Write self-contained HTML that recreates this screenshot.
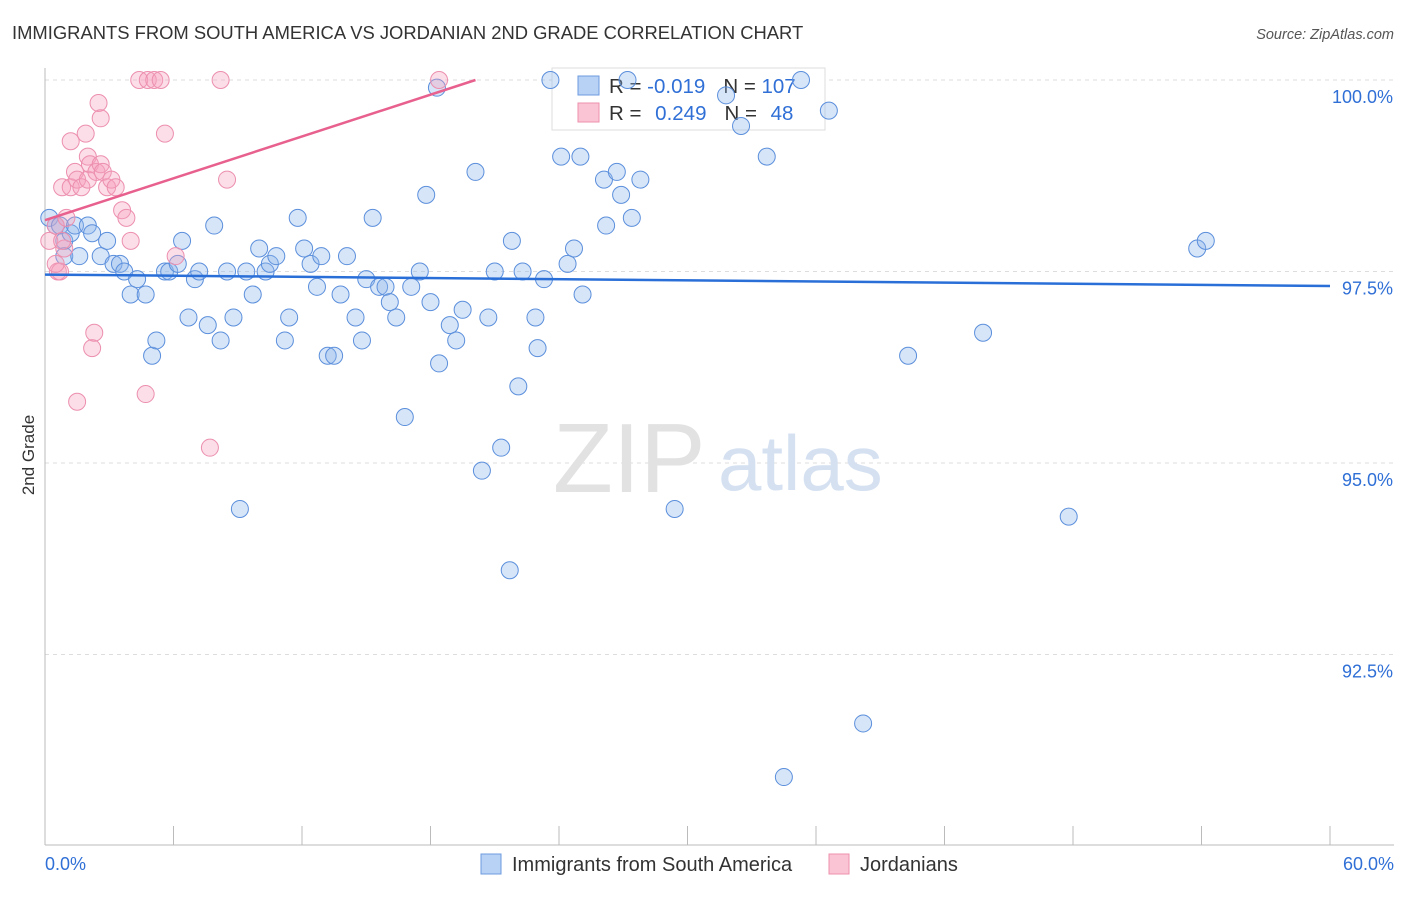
<!DOCTYPE html>
<html><head><meta charset="utf-8"><style>
body{margin:0;background:#fff;font-family:"Liberation Sans",sans-serif}
svg text{font-family:"Liberation Sans",sans-serif}
</style></head><body>
<svg width="1406" height="892" xmlns="http://www.w3.org/2000/svg">
<text x="12" y="39" font-size="18.4" fill="#333">IMMIGRANTS FROM SOUTH AMERICA VS JORDANIAN 2ND GRADE CORRELATION CHART</text>
<text x="1394" y="39" font-size="14.5" fill="#555" font-style="italic" text-anchor="end">Source: ZipAtlas.com</text>
<g id="grid"></g>
<text x="553" y="492" font-size="98" fill="#e2e2e2" font-family="Liberation Serif">ZIP</text>
<text x="718" y="490" font-size="78" fill="#d5e1f1">atlas</text>
<g>
<rect x="552" y="68" width="273" height="62" fill="#fff" stroke="#ddd"/>
<rect x="578" y="76" width="21" height="19" fill="#b8d2f5" stroke="#6d9be0"/>
<rect x="578" y="103" width="21" height="19" fill="#fac4d4" stroke="#ee90ad"/>
<text x="609" y="93" font-size="20.5" fill="#333"><tspan>R = </tspan><tspan fill="#2f6fd6">-0.019</tspan><tspan dx="18">N = </tspan><tspan fill="#2f6fd6">107</tspan></text>
<text x="609" y="120" font-size="20.5" fill="#333"><tspan>R = </tspan><tspan fill="#2f6fd6" dx="8">0.249</tspan><tspan dx="18">N = </tspan><tspan fill="#2f6fd6" dx="8">48</tspan></text>
</g>
<g id="marks"></g>
<text x="34" y="455" font-size="17" fill="#333" text-anchor="middle" transform="rotate(-90 34 455)">2nd Grade</text>
<g>
<rect x="481" y="854" width="20" height="20" fill="#b8d2f5" stroke="#6d9be0"/>
<text x="512" y="871" font-size="20" fill="#333">Immigrants from South America</text>
<rect x="829" y="854" width="20" height="20" fill="#fac4d4" stroke="#ee90ad"/>
<text x="860" y="871" font-size="20" fill="#333">Jordanians</text>
</g>
<text x="45" y="870" font-size="18" fill="#2f6fd6">0.0%</text>
<text x="1394" y="870" font-size="18" fill="#2f6fd6" text-anchor="end">60.0%</text>
</svg>
<script>
const yTicks=[100,97.5,95,92.5];
const yTickLabels=["100.0%","97.5%","95.0%","92.5%"];
const blueX=[0.2,0.5,0.7,0.9,1.2,0.9,1.4,1.6,2.0,2.2,2.6,2.9,3.2,3.5,3.7,4.0,4.3,4.7,5.0,5.2,5.6,5.8,6.2,6.4,6.7,7.0,7.2,7.6,7.9,8.2,8.5,8.8,9.1,9.4,9.7,10.0,10.3,10.5,10.8,11.2,11.4,11.8,12.1,12.4,12.7,12.9,13.2,13.5,13.8,14.1,14.5,14.8,15.0,15.3,15.6,15.9,16.1,16.4,16.8,17.1,17.5,17.8,18.0,18.3,18.4,18.9,19.2,19.5,20.1,20.4,20.7,21.0,21.3,21.7,21.8,22.1,22.3,22.9,23.0,23.3,23.6,24.1,24.4,24.7,25.0,25.1,26.1,26.2,26.7,26.9,27.2,27.4,27.8,29.4,31.8,32.5,33.7,34.5,35.3,36.6,38.2,40.3,43.8,47.8,53.8,54.2];
const blueY=[98.2,98.1,98.1,97.9,98.0,97.7,98.1,97.7,98.1,98.0,97.7,97.9,97.6,97.6,97.5,97.2,97.4,97.2,96.4,96.6,97.5,97.5,97.6,97.9,96.9,97.4,97.5,96.8,98.1,96.6,97.5,96.9,94.4,97.5,97.2,97.8,97.5,97.6,97.7,96.6,96.9,98.2,97.8,97.6,97.3,97.7,96.4,96.4,97.2,97.7,96.9,96.6,97.4,98.2,97.3,97.3,97.1,96.9,95.6,97.3,97.5,98.5,97.1,99.9,96.3,96.8,96.6,97.0,98.8,94.9,96.9,97.5,95.2,93.6,97.9,96.0,97.5,96.9,96.5,97.4,100.0,99.0,97.6,97.8,99.0,97.2,98.7,98.1,98.8,98.5,100.0,98.2,98.7,94.4,99.8,99.4,99.0,90.9,100.0,99.6,91.6,96.4,96.7,94.3,97.8,97.9];
const pinkX=[0.2,0.5,0.6,0.7,0.8,0.9,1.0,1.2,1.2,1.4,1.5,1.7,1.9,2.0,2.0,2.1,2.2,2.3,2.4,2.5,2.6,2.6,2.7,2.9,3.1,3.3,3.6,3.8,4.0,4.4,4.7,4.8,5.1,5.4,5.6,6.1,7.7,8.2,8.5,18.4,1.5,0.8,0.5];
const pinkY=[97.9,98.1,97.5,97.5,98.6,97.8,98.2,99.2,98.6,98.8,98.7,98.6,99.3,99.0,98.7,98.9,96.5,96.7,98.8,99.7,98.9,99.5,98.8,98.6,98.7,98.6,98.3,98.2,97.9,100.0,95.9,100.0,100.0,100.0,99.3,97.7,95.2,100.0,98.7,100.0,95.8,97.9,97.6];
const blueTrend=[97.46,97.31];
const pinkTrend=[98.17,100.0];
const X0=45,X1=1330;
const xs=v=>X0+(v/60)*(X1-X0);
const ys=v=>80+(100-v)/2.5*191.5;
const NS="http://www.w3.org/2000/svg";
const grid=document.getElementById('grid'),marks=document.getElementById('marks');
function mk(tag,at,parent){const e=document.createElementNS(NS,tag);for(const k in at)e.setAttribute(k,at[k]);parent.appendChild(e);return e;}
yTicks.forEach((t,i)=>{
 const l=mk('line',{x1:X0,x2:1394,y1:ys(t),y2:ys(t),stroke:'#ddd','stroke-dasharray':'4,4'},grid);
 
 
 const tx=mk('text',{x:1393,y:ys(t)+23,'font-size':18,fill:'#2f6fd6','text-anchor':'end'},grid);
 tx.textContent=yTickLabels[i];
 
 
});
const ax=mk('line',{x1:X0,x2:X0,y1:68,y2:845,stroke:'#bbb'},grid);


const bx=mk('line',{x1:X0,x2:1394,y1:845,y2:845,stroke:'#bbb'},grid);


for(let i=0;i<=10;i++){const t=mk('line',{x1:xs(i*6),x2:xs(i*6),y1:826,y2:845,stroke:'#bbb'},grid);
 
 }
blueX.forEach((x,i)=>{const c=mk('circle',{cx:xs(x),cy:ys(blueY[i]),r:8.5,fill:'rgba(140,180,235,0.35)',stroke:'#5b8fdc','stroke-width':1},marks);
 
 });
pinkX.forEach((x,i)=>{const c=mk('circle',{cx:xs(x),cy:ys(pinkY[i]),r:8.5,fill:'rgba(245,160,190,0.35)',stroke:'#ec8fae','stroke-width':1},marks);
 
 });
const bl=mk('line',{x1:xs(0),y1:ys(blueTrend[0]),x2:xs(60),y2:ys(blueTrend[1]),stroke:'#2a6fd8','stroke-width':2.5},marks);


const pl=mk('line',{x1:xs(0),y1:ys(pinkTrend[0]),x2:xs(20.1),y2:ys(pinkTrend[1]),stroke:'#e8608e','stroke-width':2.5},marks);


</script>
</body></html>
